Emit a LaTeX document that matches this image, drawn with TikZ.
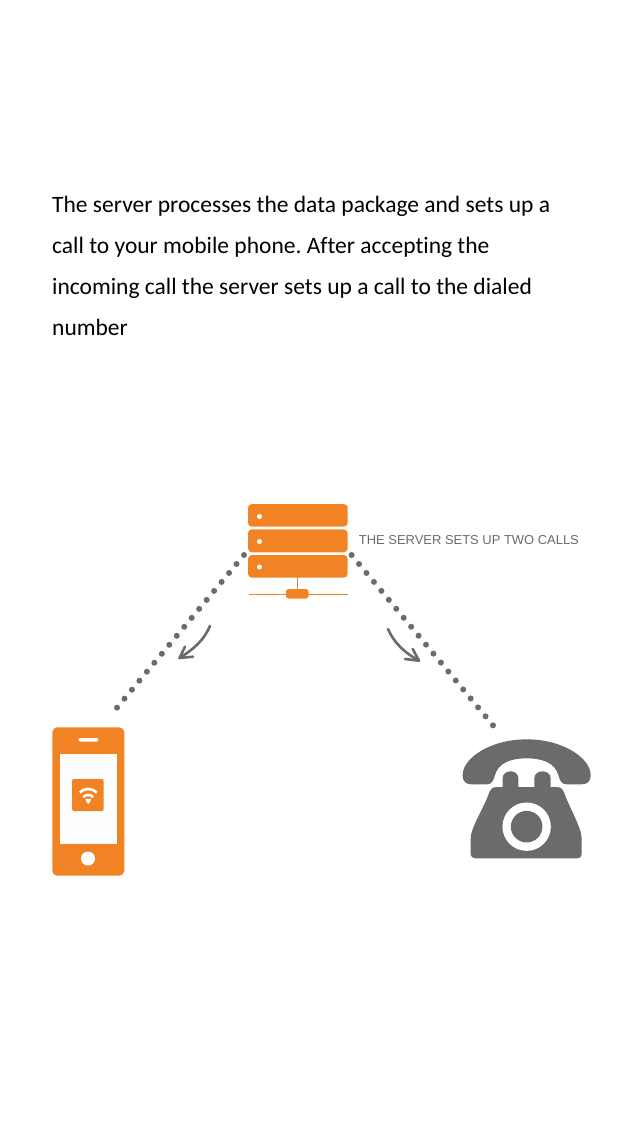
\documentclass[tikz,border=0pt]{standalone}
\usepackage{fontspec}
\setmainfont[Ligatures=NoCommon]{Carlito}
\newfontfamily\labelfont{Liberation Sans}
\definecolor{brandorange}{HTML}{F28325}
\definecolor{icongray}{HTML}{6A6B6B}
\definecolor{screenwhite}{HTML}{FDFDFD}
\tikzset{
  bodyline/.style={anchor=base west,inner sep=0pt,font=\fontsize{23.5}{25}\selectfont\frenchspacing,text=black},
  dotline/.style={draw=icongray,line width=6pt,line cap=round,dash pattern=on 0pt off #1},
  curvearrow/.style={draw=icongray,line width=2.6pt,line cap=round,line join=round},
  serverbar/.style={fill=brandorange,rounded corners=4pt},
  wifi/.style={draw=white,line width=2.6pt,line cap=butt}
}
\begin{document}
\begin{tikzpicture}[x=1pt,y=-1pt]
\useasboundingbox[fill=white] (0,0) rectangle (640,1136);
% text
\node[bodyline] (l1) at (52,212) {The server processes the data package and sets up a};
\node[bodyline] (l2) at (52,253) {call to your mobile phone. After accepting the};
\node[bodyline] (l3) at (52,294) {incoming call the server sets up a call to the dialed};
\node[bodyline] (l4) at (52,335) {number};
\node[anchor=base west,inner sep=0pt,text=icongray,font=\labelfont\fontsize{12.95}{13}\selectfont] (lab) at (358.7,544) {THE SERVER SETS UP TWO CALLS};
% server
\fill[serverbar] (248,504) rectangle (347.7,526.7);
\fill[serverbar] (248,529.3) rectangle (347.7,552.3);
\fill[serverbar] (248,555) rectangle (347.7,577.7);
\fill[white] (259.5,516.5) circle (2.5) (259.5,541.5) circle (2.5) (259.5,567) circle (2.5);
\draw[brandorange,line width=1pt] (297.5,577) -- (297.5,590) (249,594.5) -- (348,594.5);
\fill[brandorange,rounded corners=2.5pt] (286,589) rectangle (308.5,598.5);
% connectors
\coordinate (srvL) at (244,555);
\coordinate (phoneEnd) at (116.7,708);
\coordinate (srvR) at (351.6,555);
\coordinate (telEnd) at (493.3,725.7);
\draw[dotline=11.68pt] (srvL) -- (phoneEnd);
\draw[dotline=11.65pt] (srvR) -- (telEnd);
% arrows
\coordinate (a1s) at (210,626);
\coordinate (a1e) at (179.5,658);
\draw[curvearrow] (a1s) .. controls (204,640) and (194,649) .. (a1e);
\draw[curvearrow] (185,646.7) -- (a1e) -- (193,656.7);
\coordinate (a2s) at (388,629);
\coordinate (a2e) at (419,660.7);
\draw[curvearrow] (a2s) .. controls (394,643) and (405,653) .. (a2e);
\draw[curvearrow] (412.7,649) -- (a2e) -- (405,659);
% mobile phone
\fill[brandorange,rounded corners=5pt] (52.3,727.3) rectangle (124.3,875.7);
\fill[screenwhite] (60,754.3) rectangle (116.7,844);
\fill[white,rounded corners=1.5pt] (78.3,738) rectangle (98.3,741.5);
\fill[white] (88,858.5) circle (7);
\fill[brandorange,rounded corners=2pt] (72,779) rectangle (103.7,811);
\draw[wifi] (79.8,792.5) .. controls (84,787.8) and (92,787.8) .. (96.8,792.5);
\draw[wifi] (83.2,797) .. controls (86,794.2) and (90.5,794.2) .. (93.2,797);
\fill[white] (85.3,798.8) -- (91.2,798.8) -- (90,802) -- (88.3,803.8) -- (86.6,802) -- cycle;
% telephone
\begin{scope}[shift={(450,725)},x=0.3333pt,y=-0.3333pt]
\fill[icongray] (38,150) .. controls (38,100) and (120,43) .. (230,43)
  .. controls (340,43) and (422,100) .. (422,150)
  .. controls (422,172) and (410,178) .. (395,178)
  -- (350,178) .. controls (332,178) and (330,165) .. (325,150)
  .. controls (315,115) and (280,100) .. (230,100)
  .. controls (180,100) and (145,115) .. (135,150)
  .. controls (130,165) and (128,178) .. (110,178)
  -- (65,178) .. controls (50,178) and (38,172) .. (38,150) -- cycle;
\fill[icongray] (158,190) -- (158,160) .. controls (158,132) and (205,132) .. (205,160) -- (205,190) -- cycle;
\fill[icongray] (253,190) -- (253,160) .. controls (253,132) and (302,132) .. (302,160) -- (302,190) -- cycle;
\fill[icongray] (140,186) -- (320,186) .. controls (335,186) and (340,195) .. (345,210)
  .. controls (360,250) and (395,310) .. (395,340)
  -- (395,385) .. controls (395,395) and (390,400) .. (380,400)
  -- (78,400) .. controls (68,400) and (62,395) .. (62,385)
  -- (62,340) .. controls (62,310) and (100,250) .. (115,210)
  .. controls (120,195) and (125,186) .. (140,186) -- cycle;
\fill[white] (230,305) circle (24.2pt);
\fill[icongray] (230,305) circle (15.8pt);
\end{scope}
\end{tikzpicture}
\end{document}
